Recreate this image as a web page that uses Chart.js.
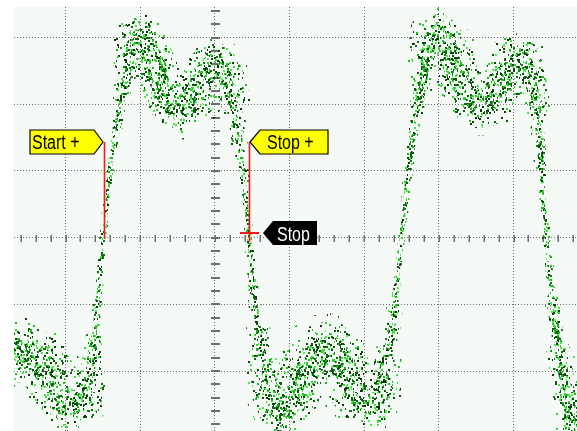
<!DOCTYPE html>
<html>
<head>
<meta charset="utf-8">
<script src="https://cdn.jsdelivr.net/npm/chart.js@4/dist/chart.umd.min.js"></script>
<style>
  html, body { margin: 0; padding: 0; background: #ffffff; overflow: hidden; }
  canvas { display: block; }
</style>
</head>
<body>
<canvas id="scope" width="577" height="431"></canvas>
<script>
// Time in divisions from the screen centre, amplitude in divisions.
const timeDiv = [
  -2.69, -2.54, -2.34, -2.14, -1.97, -1.81, -1.70, -1.62, -1.57, -1.49,
  -1.41, -1.31, -1.23, -1.14, -1.00, -0.87, -0.74, -0.60, -0.44, -0.27,
  -0.13, 0.00, 0.13, 0.24, 0.32, 0.39, 0.46, 0.51, 0.58, 0.67,
  0.78, 0.90, 1.03, 1.20, 1.38, 1.54, 1.70, 1.87, 2.05, 2.21,
  2.32, 2.40, 2.45, 2.50, 2.58, 2.66, 2.74, 2.84, 2.97, 3.11,
  3.25, 3.41, 3.57, 3.75, 3.92, 4.08, 4.22, 4.30, 4.38, 4.44,
  4.52, 4.62, 4.71, 4.78, 4.85
];
const voltsDiv = [
  -1.75, -1.75, -1.86, -2.20, -2.50, -2.43, -2.20, -1.53, -0.93, 0.00,
  0.99, 1.69, 2.14, 2.67, 2.97, 2.74, 2.40, 2.07, 1.92, 2.15,
  2.45, 2.59, 2.42, 2.07, 1.47, 0.87, 0.00, -0.70, -1.38, -1.98,
  -2.35, -2.58, -2.43, -2.05, -1.75, -1.68, -1.90, -2.28, -2.50, -2.28,
  -1.83, -1.08, -0.55, 0.00, 0.94, 1.57, 2.07, 2.74, 3.04, 2.82,
  2.45, 2.12, 1.98, 2.20, 2.52, 2.68, 2.37, 1.92, 0.99, 0.01,
  -0.93, -1.68, -2.32, -2.80, -3.03
];
// Noise half-width around the trace, in divisions.
const noiseDiv = [
  0.42, 0.42, 0.42, 0.37, 0.33, 0.33, 0.20, 0.08, 0.05, 0.05,
  0.05, 0.06, 0.09, 0.19, 0.30, 0.33, 0.33, 0.33, 0.36, 0.33,
  0.33, 0.33, 0.26, 0.14, 0.08, 0.05, 0.05, 0.06, 0.09, 0.19,
  0.30, 0.33, 0.36, 0.39, 0.42, 0.42, 0.39, 0.37, 0.33, 0.26,
  0.14, 0.06, 0.05, 0.05, 0.05, 0.06, 0.09, 0.19, 0.30, 0.33,
  0.33, 0.33, 0.36, 0.33, 0.33, 0.30, 0.22, 0.12, 0.05, 0.05,
  0.06, 0.12, 0.19, 0.22, 0.22
];

const xGrid = [-2, -1, 0, 1, 2, 3, 4];
const yGrid = [-2, -1, 0, 1, 2, 3];

const cursorLabels = ['Start +', 'Stop +'];
const cursorTimes = [-1.49, 0.46];
const cursorLevel = 1.44;
const stopLabel = 'Stop';
const stopLevel = 0.07;

// Speckle texture for the persistence display (2px phosphor dots).
function speckle(count, seed) {
  const size = 131;
  const c = document.createElement('canvas');
  c.width = size; c.height = size;
  const g = c.getContext('2d');
  const inks = ['#2fd42f', '#0c4f0c', '#47ea47', '#15701a', '#1fb81f', '#083a08', '#0e5e0e'];
  let h = seed >>> 0;
  const step = () => { h = (Math.imul(h, 1664525) + 1013904223) >>> 0; return h / 4294967296; };
  for (let i = 0; i < count; i++) {
    const px = Math.floor(step() * size);
    const py = Math.floor(step() * size);
    g.fillStyle = inks[i % inks.length];
    const w = step() < 0.25 ? 1 : 2;
    g.fillRect(px, py, w, 2);
  }
  return g.createPattern(c, 'repeat');
}

const haloInk = speckle(140, 33);
const outerInk = speckle(650, 7);
const innerInk = speckle(1700, 91);

const tracePoints = timeDiv.map((t, i) => ({ x: t, y: voltsDiv[i] }));

function bandWidth(factor) {
  return ctx => {
    const ys = ctx.chart.scales.y;
    const n = (noiseDiv[ctx.p0DataIndex] + noiseDiv[ctx.p1DataIndex]) / 2;
    const px = Math.abs(ys.getPixelForValue(0) - ys.getPixelForValue(n));
    return Math.max(2, px * factor);
  };
}

function band(ink, factor) {
  return {
    data: tracePoints,
    borderColor: ink,
    borderWidth: 4,
    borderCapStyle: 'round',
    borderJoinStyle: 'round',
    fill: false,
    pointRadius: 0,
    cubicInterpolationMode: 'monotone',
    segment: {
      borderColor: () => ink,
      borderWidth: bandWidth(factor),
      borderCapStyle: () => 'round',
      borderJoinStyle: () => 'round'
    }
  };
}

const screenPlugin = {
  id: 'screen',
  beforeDraw(chart) {
    const { ctx, chartArea: a } = chart;
    ctx.save();
    ctx.fillStyle = '#ffffff';
    ctx.fillRect(0, 0, chart.width, chart.height);
    ctx.fillStyle = '#f6faf6';
    ctx.fillRect(a.left, a.top, a.right - a.left, a.bottom - a.top);
    ctx.restore();
  },
  beforeDatasetsDraw(chart) {
    // minor ticks along the two centre graticule lines
    const { ctx, chartArea: a, scales: { x, y } } = chart;
    const x0 = x.getPixelForValue(0);
    const y0 = y.getPixelForValue(0);
    ctx.save();
    ctx.fillStyle = '#6e6e6e';
    for (let k = -20; k <= 30; k++) {
      const px = Math.round(x.getPixelForValue(k * 0.2));
      if (px < a.left || px > a.right) continue;
      ctx.fillRect(px - 0.5, Math.round(y0) - 3, 1.5, 7);
    }
    for (let k = -20; k <= 20; k++) {
      const py = Math.round(y.getPixelForValue(k * 0.2));
      if (py < a.top || py > a.bottom) continue;
      ctx.fillRect(Math.round(x0) - 4, py - 1, 9, 2);
    }
    ctx.restore();
  },
  afterDatasetsDraw(chart) {
    const { ctx, scales: { x, y } } = chart;
    const top = Math.round(y.getPixelForValue(cursorLevel));
    const base = Math.round(y.getPixelForValue(0));
    const sx = Math.round(x.getPixelForValue(cursorTimes[0]));
    const tx = Math.round(x.getPixelForValue(cursorTimes[1]));
    const sy = Math.round(y.getPixelForValue(stopLevel));

    ctx.save();
    ctx.strokeStyle = '#ee1c1c';
    ctx.lineWidth = 1.6;
    ctx.beginPath();
    ctx.moveTo(sx + 0.5, top); ctx.lineTo(sx + 0.5, base + 1);
    ctx.moveTo(tx + 0.5, top); ctx.lineTo(tx + 0.5, sy + 9);
    ctx.stroke();
    ctx.lineWidth = 2;
    ctx.beginPath();
    ctx.moveTo(tx - 9, sy); ctx.lineTo(tx + 10, sy);
    ctx.stroke();

    const label = (text, tipX, tipY, dir, bodyLen, fill, ink, outline, textX, textY) => {
      const h = 12;
      ctx.beginPath();
      if (dir > 0) {
        ctx.moveTo(tipX, tipY);
        ctx.lineTo(tipX - 9, tipY - h);
        ctx.lineTo(tipX - 9 - bodyLen, tipY - h);
        ctx.lineTo(tipX - 9 - bodyLen, tipY + h);
        ctx.lineTo(tipX - 9, tipY + h);
      } else {
        ctx.moveTo(tipX, tipY);
        ctx.lineTo(tipX + 10, tipY - h);
        ctx.lineTo(tipX + 10 + bodyLen, tipY - h);
        ctx.lineTo(tipX + 10 + bodyLen, tipY + h);
        ctx.lineTo(tipX + 10, tipY + h);
      }
      ctx.closePath();
      ctx.fillStyle = fill;
      ctx.fill();
      if (outline) {
        ctx.lineWidth = 1.2;
        ctx.strokeStyle = outline;
        ctx.stroke();
      }
      ctx.save();
      ctx.translate(textX, textY);
      ctx.scale(0.8, 1);
      ctx.font = '20px "Liberation Sans", Arial, sans-serif';
      ctx.textBaseline = 'alphabetic';
      ctx.fillStyle = ink;
      ctx.fillText(text, 0, 0);
      ctx.restore();
    };

    label(cursorLabels[0], sx - 1, top, 1, 64, '#ffff00', '#000000', '#000000', sx - 72, top + 7);
    label(cursorLabels[1], tx + 1, top, -1, 68, '#ffff00', '#000000', '#000000', tx + 18, top + 7);
    label(stopLabel, tx + 14, sy, -1, 44, '#000000', '#ffffff', null, tx + 28, sy + 8);
    ctx.restore();
  }
};

const gridStyle = {
  color: '#6f6f6f',
  lineWidth: 1,
  drawTicks: false
};

new Chart(document.getElementById('scope'), {
  type: 'line',
  data: {
    datasets: [
      band(haloInk, 2.6),
      band(outerInk, 2.0),
      band(innerInk, 1.0)
    ]
  },
  options: {
    responsive: false,
    animation: false,
    devicePixelRatio: 1,
    events: [],
    layout: { padding: { left: 14, top: 7, right: 0, bottom: 0 } },
    plugins: { legend: { display: false }, tooltip: { enabled: false } },
    scales: {
      x: {
        type: 'linear',
        min: -2.69,
        max: 4.85,
        afterBuildTicks: s => { s.ticks = xGrid.map(v => ({ value: v })); },
        afterFit: s => { s.height = 0; },
        ticks: { display: false },
        grid: gridStyle,
        border: { display: false, dash: [1, 2] }
      },
      y: {
        type: 'linear',
        min: -2.9,
        max: 3.46,
        afterBuildTicks: s => { s.ticks = yGrid.map(v => ({ value: v })); },
        afterFit: s => { s.width = 0; },
        ticks: { display: false },
        grid: gridStyle,
        border: { display: false, dash: [1, 2] }
      }
    }
  },
  plugins: [screenPlugin]
});
</script>
</body>
</html>
